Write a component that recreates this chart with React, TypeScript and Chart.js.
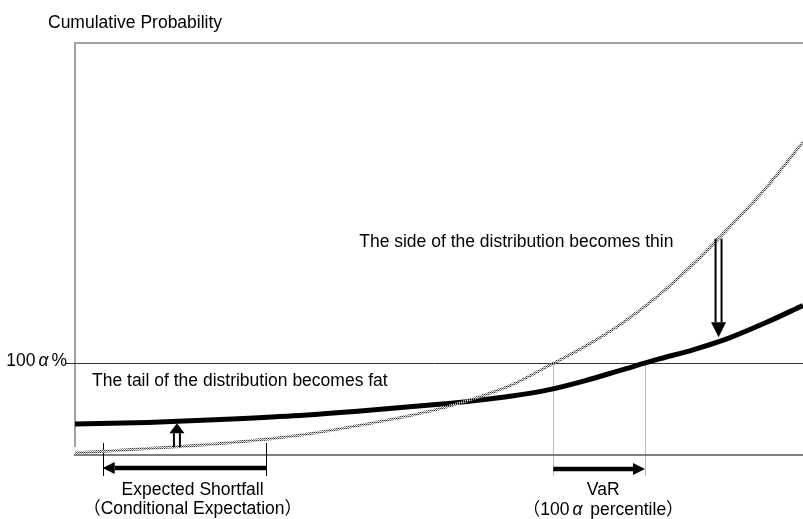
import React, { useEffect, useRef } from "react";
import { Chart, registerables } from "chart.js";

Chart.register(...registerables);

// ---- data ----
const xValues = [0, 10, 20, 30, 40, 50, 55, 60, 65, 70, 75, 80, 85, 90, 95, 100];
const fatTailSeries = [7.5, 7.9, 8.6, 9.5, 10.8, 12.3, 13.2, 14.3, 15.8, 18.0, 20.6, 23.2, 25.6, 28.5, 32.2, 36.3];
const thinTailSeries = [0.5, 1.6, 2.8, 4.6, 7.5, 11.2, 13.8, 17.0, 21.6, 26.3, 31.8, 38.5, 46.5, 55.5, 65.0, 76.0];
const alphaLevel = 22.3;
const varRange = [65.7, 78.3];
const esRange = [3.8, 26.3];
const fatArrow = [14.0, 1.9, 7.7]; // x, from, to
const thinArrow = [88.4, 52.5, 28.6]; // x, from, to

const yAxisTitle = "Cumulative Probability";
const alphaLabel = "100α%";
const fatLabel = "The tail of the distribution becomes fat";
const thinLabel = "The side of the distribution becomes thin";
const esLabels = ["Expected Shortfall", "（Conditional Expectation）"];
const varLabels = ["VaR", "（100α percentile）"];

const SIZE = 17.5;
const FONT = `${SIZE}px 'Liberation Sans', 'Noto Sans CJK JP', sans-serif`;
const ALPHA_FONT = `italic ${SIZE}px 'Liberation Sans', sans-serif`;
const ALPHA_PAD = 3;

// draws text, rendering the Greek alpha italic with some extra room (full-width look)
function drawMixed(ctx: CanvasRenderingContext2D, text: string, x: number, y: number, align: "left" | "right" | "center") {
  const parts: { s: string; f: string; pad: number }[] = [];
  let buf = "";
  for (const ch of text) {
    if (ch === "α") {
      if (buf) parts.push({ s: buf, f: FONT, pad: 0 });
      parts.push({ s: ch, f: ALPHA_FONT, pad: ALPHA_PAD });
      buf = "";
    } else buf += ch;
  }
  if (buf) parts.push({ s: buf, f: FONT, pad: 0 });
  let total = 0;
  const widths = parts.map((p) => {
    ctx.font = p.f;
    const w = ctx.measureText(p.s).width + 2 * p.pad;
    total += w;
    return w;
  });
  let cx = align === "left" ? x : align === "right" ? x - total : x - total / 2;
  ctx.textAlign = "left";
  parts.forEach((p, i) => {
    ctx.font = p.f;
    ctx.fillText(p.s, cx + p.pad, y);
    cx += widths[i];
  });
  ctx.font = FONT;
}

function solidArrow(ctx: CanvasRenderingContext2D, x1: number, y: number, x2: number, width: number, headLen: number, headHalf: number) {
  const dir = Math.sign(x2 - x1);
  ctx.save();
  ctx.strokeStyle = "#000";
  ctx.fillStyle = "#000";
  ctx.lineWidth = width;
  ctx.beginPath();
  ctx.moveTo(x1, y);
  ctx.lineTo(x2 - dir * headLen, y);
  ctx.stroke();
  ctx.beginPath();
  ctx.moveTo(x2, y);
  ctx.lineTo(x2 - dir * headLen, y - headHalf);
  ctx.lineTo(x2 - dir * headLen, y + headHalf);
  ctx.closePath();
  ctx.fill();
  ctx.restore();
}

function hollowArrow(ctx: CanvasRenderingContext2D, x: number, y1: number, y2: number, headLen: number, headHalf: number) {
  const dir = Math.sign(y2 - y1);
  const base = y2 - dir * headLen;
  ctx.save();
  ctx.strokeStyle = "#000";
  ctx.fillStyle = "#000";
  ctx.lineWidth = 2;
  ctx.beginPath();
  ctx.moveTo(x - 3, y1);
  ctx.lineTo(x - 3, base);
  ctx.moveTo(x + 3, y1);
  ctx.lineTo(x + 3, base);
  ctx.stroke();
  ctx.beginPath();
  ctx.moveTo(x, y2);
  ctx.lineTo(x - headHalf, base);
  ctx.lineTo(x + headHalf, base);
  ctx.closePath();
  ctx.fill();
  ctx.restore();
}

const decorations = {
  id: "decorations",
  beforeDatasetsDraw(chart: any) {
    const { ctx, chartArea: a, scales } = chart;
    const xs = scales.x, ys = scales.y;
    ctx.save();
    // frame
    ctx.strokeStyle = "#a0a0a0";
    ctx.lineWidth = 2;
    ctx.beginPath();
    ctx.moveTo(a.left, a.bottom - 8);
    ctx.lineTo(a.left, a.top);
    ctx.lineTo(a.right, a.top);
    ctx.stroke();
    // x axis
    ctx.strokeStyle = "#555";
    ctx.lineWidth = 1.5;
    ctx.beginPath();
    ctx.moveTo(a.left - 1, a.bottom);
    ctx.lineTo(a.right, a.bottom);
    ctx.stroke();
    // alpha line
    const ay = Math.round(ys.getPixelForValue(alphaLevel)) + 0.5;
    ctx.strokeStyle = "#333";
    ctx.lineWidth = 1;
    ctx.beginPath();
    ctx.moveTo(a.left - 9, ay);
    ctx.lineTo(a.right, ay);
    ctx.stroke();
    // VaR verticals
    ctx.strokeStyle = "#777";
    ctx.setLineDash([1, 1]);
    for (const v of varRange) {
      const px = Math.round(xs.getPixelForValue(v)) + 0.5;
      ctx.beginPath();
      ctx.moveTo(px, ay);
      ctx.lineTo(px, a.bottom + 21);
      ctx.stroke();
    }
    ctx.setLineDash([]);
    // ES verticals
    ctx.strokeStyle = "#000";
    for (const v of esRange) {
      const px = Math.round(xs.getPixelForValue(v)) + 0.5;
      ctx.beginPath();
      ctx.moveTo(px, a.bottom - 12);
      ctx.lineTo(px, a.bottom + 21);
      ctx.stroke();
    }
    ctx.restore();
  },
  afterDatasetsDraw(chart: any) {
    const { ctx, chartArea: a, scales } = chart;
    const xs = scales.x, ys = scales.y;
    ctx.save();
    // arrows
    solidArrow(ctx, xs.getPixelForValue(esRange[1]), a.bottom + 13, xs.getPixelForValue(esRange[0]), 4.5, 12, 6);
    solidArrow(ctx, xs.getPixelForValue(varRange[0]), a.bottom + 14, xs.getPixelForValue(varRange[1]), 4.5, 12, 6);
    hollowArrow(ctx, xs.getPixelForValue(fatArrow[0]), ys.getPixelForValue(fatArrow[1]), ys.getPixelForValue(fatArrow[2]), 10, 7.5);
    hollowArrow(ctx, xs.getPixelForValue(thinArrow[0]), ys.getPixelForValue(thinArrow[1]), ys.getPixelForValue(thinArrow[2]), 15, 7.5);
    // texts
    ctx.fillStyle = "#000";
    ctx.font = FONT;
    ctx.textBaseline = "middle";
    ctx.textAlign = "left";
    ctx.fillText(yAxisTitle, a.left - 27, a.top - 20);
    const ay = ys.getPixelForValue(alphaLevel);
    ctx.fillText(fatLabel, a.left + 17, ay + 18);
    ctx.textAlign = "right";
    ctx.fillText(thinLabel, xs.getPixelForValue(82.2), ys.getPixelForValue(51.7));
    drawMixed(ctx, alphaLabel, a.left - 8, ay - 2, "right");
    ctx.textAlign = "center";
    const esc = (xs.getPixelForValue(esRange[0]) + xs.getPixelForValue(esRange[1])) / 2 + 8;
    ctx.font = FONT;
    ctx.fillText(esLabels[0], esc, a.bottom + 35);
    ctx.fillText(esLabels[1], esc, a.bottom + 54);
    const vc = (xs.getPixelForValue(varRange[0]) + xs.getPixelForValue(varRange[1])) / 2 + 4;
    ctx.fillText(varLabels[0], vc, a.bottom + 35);
    drawMixed(ctx, varLabels[1], vc, a.bottom + 55, "center");
    ctx.restore();
  },
};

export default function App() {
  const ref = useRef<HTMLCanvasElement | null>(null);
  useEffect(() => {
    const canvas = ref.current;
    if (!canvas) return;
    const ctx = canvas.getContext("2d")!;
    const pc = document.createElement("canvas");
    pc.width = 2;
    pc.height = 2;
    const g = pc.getContext("2d")!;
    g.fillStyle = "#333";
    g.fillRect(0, 0, 1, 1);
    g.fillStyle = "#888";
    g.fillRect(1, 1, 1, 1);
    g.fillStyle = "#ccc";
    g.fillRect(1, 0, 1, 1);
    const pattern = ctx.createPattern(pc, "repeat");
    const chart = new Chart(canvas, {
      type: "line",
      data: {
        datasets: [
          {
            data: xValues.map((x, i) => ({ x, y: thinTailSeries[i] })),
            borderColor: pattern as any,
            borderWidth: 3,
            pointRadius: 0,
            cubicInterpolationMode: "monotone",
            fill: false,
          },
          {
            data: xValues.map((x, i) => ({ x, y: fatTailSeries[i] })),
            borderColor: "#000",
            borderWidth: 5,
            pointRadius: 0,
            cubicInterpolationMode: "monotone",
            fill: false,
          },
        ],
      },
      options: {
        animation: false,
        responsive: true,
        maintainAspectRatio: false,
        layout: { padding: { left: 75, top: 43, right: 0, bottom: 64 } },
        scales: {
          x: { type: "linear", min: 0, max: 100, display: false },
          y: { min: 0, max: 100, display: false },
        },
        plugins: { legend: { display: false }, tooltip: { enabled: false } },
      },
      plugins: [decorations],
    });
    return () => chart.destroy();
  }, []);
  return (
    <div style={{ position: "absolute", left: 0, top: 0, width: 803, height: 519, background: "#fff" }}>
      <canvas ref={ref} />
    </div>
  );
}
